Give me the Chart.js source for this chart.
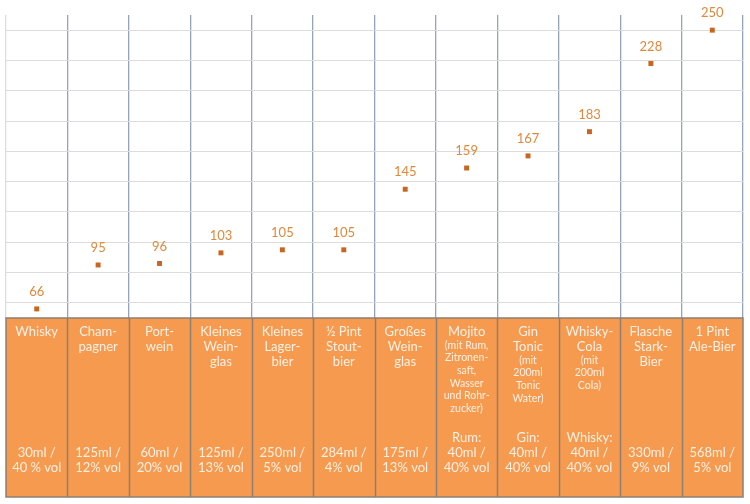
<!DOCTYPE html>
<html lang="de">
<head>
<meta charset="utf-8">
<title>Kalorien in alkoholischen Getränken</title>
<script src="https://cdn.jsdelivr.net/npm/chart.js@4"></script>
<style>
  html, body { margin: 0; padding: 0; background: #fff; }
  #wrap { width: 750px; height: 504px; }
</style>
</head>
<body>
<div id="wrap"><canvas id="chart" width="750" height="504"></canvas></div>
<script>
// ── Data ───────────────────────────────────────────────────
const drinkNames = [
  ['Whisky'],
  ['Cham-', 'pagner'],
  ['Port-', 'wein'],
  ['Kleines', 'Wein-', 'glas'],
  ['Kleines', 'Lager-', 'bier'],
  ['½ Pint', 'Stout-', 'bier'],
  ['Großes', 'Wein-', 'glas'],
  ['Mojito'],
  ['Gin', 'Tonic'],
  ['Whisky-', 'Cola'],
  ['Flasche', 'Stark-', 'Bier'],
  ['1 Pint', 'Ale-Bier'],
];

const drinkNotes = [
  [], [], [], [], [], [], [],
  ['(mit Rum,', 'Zitronen-', 'saft,', 'Wasser', 'und Rohr-', 'zucker)'],
  ['(mit', '200ml', 'Tonic', 'Water)'],
  ['(mit', '200ml', 'Cola)'],
  [], [],
];

const drinkVolumes = [
  ['30ml /', '40 % vol'],
  ['125ml /', '12% vol'],
  ['60ml /', '20% vol'],
  ['125ml /', '13% vol'],
  ['250ml /', '5% vol'],
  ['284ml /', '4% vol'],
  ['175ml /', '13% vol'],
  ['Rum:', '40ml /', '40% vol'],
  ['Gin:', '40ml /', '40% vol'],
  ['Whisky:', '40ml /', '40% vol'],
  ['330ml /', '9% vol'],
  ['568ml /', '5% vol'],
];

const values = [66, 95, 96, 103, 105, 105, 145, 159, 167, 183, 228, 250];

const gridValues = [70, 90, 110, 130, 150, 170, 190, 210, 230, 250];

// ── Colours / fonts ────────────────────────────────────────
const POINT_COLOR  = '#c8651f';
const LABEL_COLOR  = '#e2883c';
const TABLE_FILL   = '#f69a50';
const TABLE_BORDER = '#8d7f72';
const TABLE_TEXT   = '#fdf0e4';
const VLINE_COLOR  = '#93a3bd';
const HGRID_COLOR  = '#dcdcdc';
const FONT = "Lato, 'Open Sans', sans-serif";

// ── Table below the plot ───────────────────────────────────
const tablePlugin = {
  id: 'drinkTable',
  afterDraw(chart) {
    const { ctx, chartArea } = chart;
    const xs = chart.scales.x;
    const top = chartArea.bottom;
    const bottom = top + 179;
    const left = chartArea.left;
    const right = chartArea.right;
    const colW = (right - left) / drinkNames.length;

    ctx.save();
    ctx.fillStyle = TABLE_FILL;
    ctx.fillRect(left, top, right - left, bottom - top);

    ctx.strokeStyle = TABLE_BORDER;
    ctx.lineWidth = 1.5;
    ctx.strokeRect(left, top, right - left, bottom - top);
    for (let i = 1; i < drinkNames.length; i++) {
      const bx = Math.round(left + i * colW) + 0.5;
      ctx.beginPath();
      ctx.moveTo(bx, top);
      ctx.lineTo(bx, bottom);
      ctx.stroke();
    }

    ctx.fillStyle = TABLE_TEXT;
    ctx.textAlign = 'center';
    ctx.textBaseline = 'middle';

    drinkNames.forEach((lines, i) => {
      const cx = xs.getPixelForValue(i);
      let y = top + 14;
      ctx.font = '13px ' + FONT;
      lines.forEach((t, k) => {
        if (k > 0) y += 15;
        ctx.fillText(t, cx, y);
      });
      ctx.font = '10.5px ' + FONT;
      drinkNotes[i].forEach((t, k) => {
        y += (k === 0) ? 13.5 : 12.6;
        ctx.fillText(t, cx, y);
      });

      ctx.font = '13px ' + FONT;
      const vol = drinkVolumes[i];
      vol.forEach((t, k) => {
        ctx.fillText(t, cx, top + 150 - (vol.length - 1 - k) * 15);
      });
    });
    ctx.restore();
  },
};

// ── Value labels above the points ─────────────────────────
const valueLabelPlugin = {
  id: 'valueLabels',
  afterDatasetsDraw(chart) {
    const { ctx } = chart;
    const meta = chart.getDatasetMeta(0);
    ctx.save();
    ctx.font = '13px ' + FONT;
    ctx.fillStyle = LABEL_COLOR;
    ctx.textAlign = 'center';
    ctx.textBaseline = 'middle';
    meta.data.forEach((pt, i) => {
      ctx.fillText(String(values[i]), pt.x, pt.y - 17);
    });
    ctx.restore();
  },
};

new Chart(document.getElementById('chart'), {
  type: 'line',
  data: {
    labels: drinkNames.map(n => n.join(' ')),
    datasets: [{
      data: values,
      showLine: false,
      pointStyle: 'rect',
      pointRadius: 3.5,
      pointBackgroundColor: POINT_COLOR,
      pointBorderColor: POINT_COLOR,
      pointBorderWidth: 0,
    }],
  },
  options: {
    responsive: false,
    animation: false,
    layout: { padding: { left: 6, right: 7, top: 15, bottom: 186 } },
    plugins: {
      legend: { display: false },
      tooltip: { enabled: false },
    },
    scales: {
      x: {
        type: 'category',
        offset: true,
        ticks: { display: false },
        border: { display: false },
        grid: {
          offset: true,
          drawTicks: false,
          lineWidth: 1.3,
          color: (c) => c.index === 0 ? HGRID_COLOR
                      : c.index === drinkNames.length ? 'rgba(0,0,0,0)'
                      : VLINE_COLOR,
        },
      },
      y: {
        min: 60,
        max: 260,
        ticks: { display: false },
        border: { display: false },
        grid: { drawTicks: false, color: HGRID_COLOR, lineWidth: 1 },
        afterBuildTicks: (s) => { s.ticks = gridValues.map(v => ({ value: v })); },
      },
    },
  },
  plugins: [tablePlugin, valueLabelPlugin],
});
</script>
</body>
</html>
